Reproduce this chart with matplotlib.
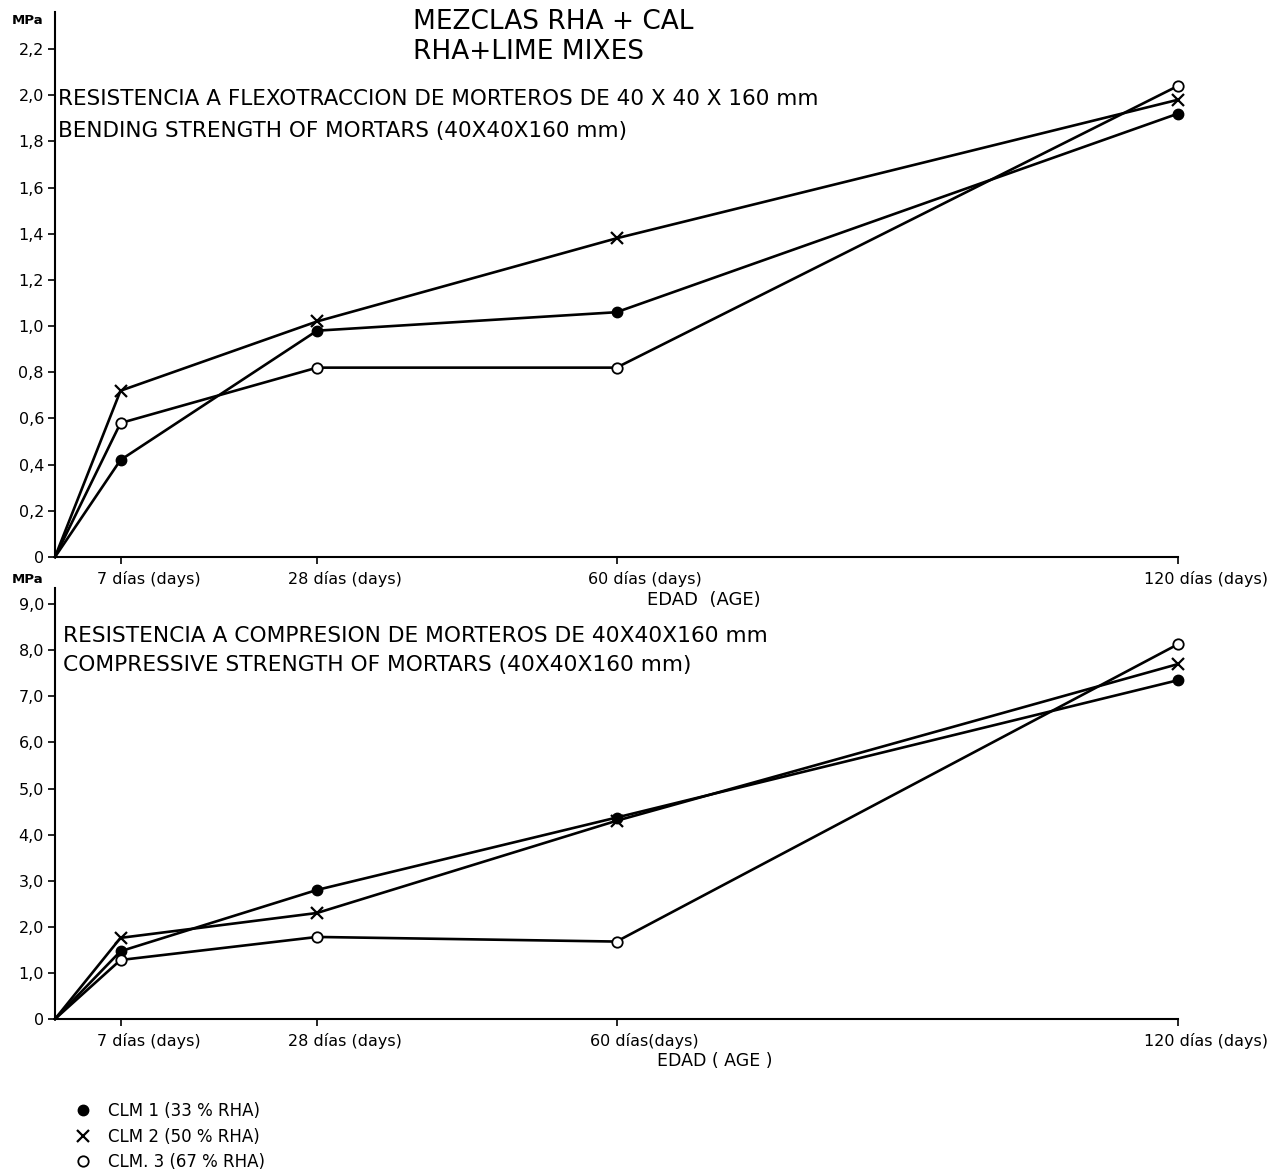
import matplotlib
matplotlib.use("Agg")
import matplotlib.pyplot as plt
from matplotlib.lines import Line2D
from matplotlib.transforms import ScaledTranslation

plt.rcParams['font.family'] = ['DejaVu Sans']

# Curing age (days)
ages = [0, 7, 28, 60, 120]
age_labels = ["7 días (days)", "28 días (days)", "60 días (days)", "120 días (days)"]
age_labels_comp = ["7 días (days)", "28 días (days)", "60 días(days)", "120 días (days)"]

# Bending strength (MPa)
bend_clm1 = [0, 0.42, 0.98, 1.06, 1.92]
bend_clm2 = [0, 0.72, 1.02, 1.38, 1.98]
bend_clm3 = [0, 0.58, 0.82, 0.82, 2.04]

# Compressive strength (MPa)
comp_clm1 = [0, 1.47, 2.80, 4.37, 7.35]
comp_clm2 = [0, 1.76, 2.30, 4.30, 7.70]
comp_clm3 = [0, 1.28, 1.78, 1.68, 8.13]

bend_ticks = [0, 0.2, 0.4, 0.6, 0.8, 1.0, 1.2, 1.4, 1.6, 1.8, 2.0, 2.2]
bend_ticklabels = ["0", "0,2", "0,4", "0,6", "0,8", "1,0", "1,2", "1,4", "1,6", "1,8", "2,0", "2,2"]
comp_ticks = [0, 1, 2, 3, 4, 5, 6, 7, 8, 9]
comp_ticklabels = ["0", "1,0", "2,0", "3,0", "4,0", "5,0", "6,0", "7,0", "8,0", "9,0"]

series_names = ["CLM 1 (33 % RHA)", "CLM 2 (50 % RHA)", "CLM. 3 (67 % RHA)"]

W, H = 1277, 1169
fig = plt.figure(figsize=(W / 100, H / 100), dpi=100)

def px_axes(x0, y_top, x1, y_bot):
    return fig.add_axes([x0 / W, 1 - y_bot / H, (x1 - x0) / W, (y_bot - y_top) / H])

ax1 = px_axes(55, 12, 1178, 557)
ax2 = px_axes(55, 588, 1178, 1019)

styles = [
    dict(marker='o', markersize=7.5, markerfacecolor='black', markeredgecolor='black'),
    dict(marker='x', markersize=8, markeredgewidth=1.6, markeredgecolor='black'),
    dict(marker='o', markersize=7.5, markerfacecolor='white', markeredgecolor='black', markeredgewidth=1.3),
]

def draw_panel(ax, series, yticks, yticklabels, ytop, xlabels):
    for vals, st in zip(series, styles):
        # the common origin carries no marker
        ax.plot(ages, vals, color='black', lw=1.9, clip_on=False, zorder=3,
                markevery=slice(1, None), **st)
    ax.set_xlim(0, 120)
    ax.set_ylim(0, ytop)
    for s in ['top', 'right']:
        ax.spines[s].set_visible(False)
    for s in ['left', 'bottom']:
        ax.spines[s].set_linewidth(1.5)
    ax.set_yticks(yticks)
    ax.set_yticklabels(yticklabels, fontsize=11.5)
    ax.set_xticks(ages[1:])
    ax.set_xticklabels(xlabels, fontsize=11.5)
    ax.tick_params(axis='both', direction='out', length=5, width=1.2, pad=3)
    ax.tick_params(axis='x', pad=5)
    shift = ScaledTranslation(28 / 100, 0, fig.dpi_scale_trans)
    for lab in ax.get_xticklabels():
        lab.set_transform(lab.get_transform() + shift)

draw_panel(ax1, [bend_clm1, bend_clm2, bend_clm3], bend_ticks, bend_ticklabels, 2.36, age_labels)
draw_panel(ax2, [comp_clm1, comp_clm2, comp_clm3], comp_ticks, comp_ticklabels, 9.35, age_labels_comp)

def ftext(x, y, s, **kw):
    fig.text(x / W, 1 - y / H, s, **kw)

# Units
ftext(12, 21, "MPa", fontsize=9.5, fontweight='bold', va='center')
ftext(12, 579, "MPa", fontsize=9.5, fontweight='bold', va='center')

# Title
ftext(413, 22, "MEZCLAS RHA + CAL", fontsize=19, va='center')
ftext(413, 52, "RHA+LIME MIXES", fontsize=19, va='center')

# Panel captions
ftext(58, 99, "RESISTENCIA A FLEXOTRACCION DE MORTEROS DE 40 X 40 X 160 mm", fontsize=15.5, va='center')
ftext(58, 131, "BENDING STRENGTH OF MORTARS (40X40X160 mm)", fontsize=15.5, va='center')
ftext(63, 636, "RESISTENCIA A COMPRESION DE MORTEROS DE 40X40X160 mm", fontsize=15.7, va='center')
ftext(63, 665, "COMPRESSIVE STRENGTH OF MORTARS (40X40X160 mm)", fontsize=15.7, va='center')

# Age axis titles
ftext(704, 600, "EDAD  (AGE)", fontsize=13, ha='center', va='center')
ftext(715, 1061, "EDAD ( AGE )", fontsize=12.5, ha='center', va='center')

# Legend
handles = [Line2D([], [], color='black', linestyle='none', **st) for st in styles]
fig.legend(handles, series_names, loc='upper left', bbox_to_anchor=(75 / W, 1 - 1102 / H),
           frameon=False, fontsize=12, handlelength=1.0, handletextpad=1.0,
           labelspacing=0.45, borderaxespad=0, borderpad=0)

fig.savefig("out.png", dpi=100)
